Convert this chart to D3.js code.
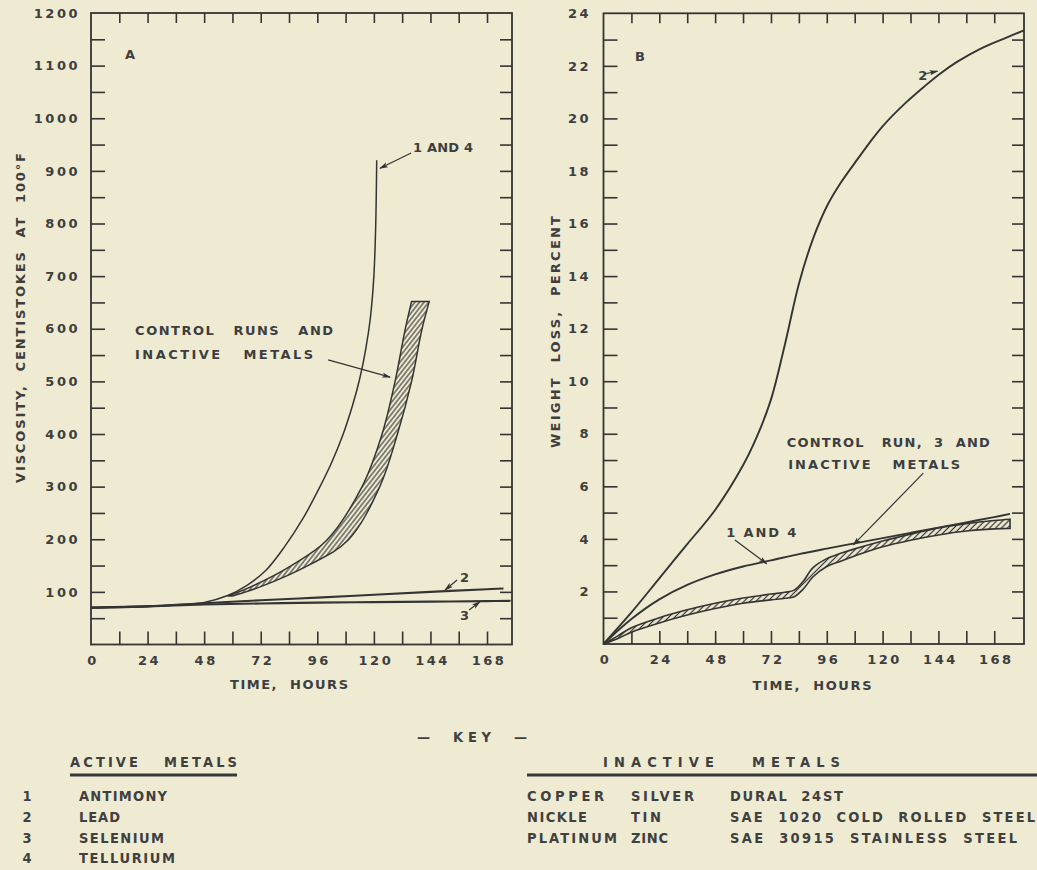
<!DOCTYPE html>
<html><head><meta charset="utf-8">
<script src="https://cdn.jsdelivr.net/npm/d3@7"></script>
<style>
html,body{margin:0;padding:0;background:#eeebd2;}
svg{display:block;}
.lbl text,.lbl{font-family:"DejaVu Sans",sans-serif;font-weight:bold;font-size:13px;fill:#3e3e3e;letter-spacing:2.5px;}
.note{font-family:"DejaVu Sans",sans-serif;font-weight:bold;font-size:13px;fill:#3e3e3e;}
.key{font-family:"DejaVu Sans Condensed","DejaVu Sans",sans-serif;font-weight:bold;font-size:14.5px;fill:#404040;}
</style></head>
<body><svg id="chart" width="1037" height="870"></svg>
<script>
// ---------- DATA ----------
// Panel A: viscosity (centistokes at 100°F) vs time (hours)
const timeA3 = [0, 24, 48, 72, 96, 120, 144, 168, 178];
const viscA3 = [70, 72.5, 76, 78, 79.5, 80.5, 81.5, 82.5, 83];
const timeA2 = [0, 24, 44, 72, 96, 120, 144, 168, 175];
const viscA2 = [70, 72.5, 77.5, 84, 89, 94.5, 100, 105, 106.5];
const timeA14 = [0, 24, 40, 48, 58, 66, 74, 82, 90, 96, 102, 107, 111, 114, 116.5, 118.5, 120, 120.8, 121.2];
const viscA14 = [70, 72.5, 76.5, 80, 93, 112, 140, 185, 240, 290, 345, 400, 455, 505, 560, 620, 700, 800, 920];
// hatched band (control runs and inactive metals)
const bandAVisc = [92, 110, 150, 198, 300, 400, 500, 597, 652];
const bandALeftTime = [58, 68, 85, 100, 115, 123.5, 129, 133.2, 136];
const bandARightTime = [60, 72, 92, 109, 122.5, 130, 136, 140.3, 143.5];

// Panel B: weight loss (percent) vs time (hours)
const timeB2 = [0, 12, 24, 36, 48, 60, 66, 72, 78, 84, 90, 96, 102, 108, 114.6, 120, 130, 138, 145, 152, 162, 172, 180.8];
const lossB2 = [0, 1.2, 2.5, 3.8, 5.1, 6.8, 7.9, 9.3, 11.4, 13.7, 15.4, 16.65, 17.55, 18.3, 19.1, 19.7, 20.6, 21.22, 21.72, 22.15, 22.65, 23.03, 23.35];
const timeB14 = [0, 12, 24, 36, 48, 60, 72, 84, 96, 108, 120, 132, 144, 156, 168, 174.8];
const lossB14 = [0, 0.95, 1.7, 2.25, 2.65, 2.95, 3.18, 3.42, 3.63, 3.83, 4.03, 4.23, 4.43, 4.63, 4.83, 4.95];
const bandBTime = [0, 6, 12, 24, 36, 48, 60, 72, 78, 82, 86, 90, 96, 102, 108, 120, 132, 144, 156, 168, 174.8];
const bandBLower = [0, 0.2, 0.45, 0.8, 1.1, 1.35, 1.55, 1.68, 1.74, 1.8, 2.1, 2.55, 2.95, 3.15, 3.35, 3.7, 3.95, 4.15, 4.3, 4.38, 4.4];
const bandBUpper = [0, 0.3, 0.62, 1.0, 1.3, 1.55, 1.75, 1.9, 1.97, 2.05, 2.4, 2.9, 3.25, 3.45, 3.62, 3.92, 4.18, 4.42, 4.58, 4.7, 4.75];

// Tick values / labels
const timeLabels = [0, 24, 48, 72, 96, 120, 144, 168];
const timeMinor = d3.range(12, 169, 12);
const viscLabels = d3.range(100, 1201, 100);
const viscMinor = d3.range(50, 1151, 50);
const lossLabels = d3.range(2, 25, 2);
const lossMinor = d3.range(1, 24, 1);

// Annotations (data coordinates)
const notesA = [
  {t: "A", h: 14.4, v: 1113, w: 0},
  {t: "1 AND 4", h: 136.6, v: 936, w: 60},
  {t: "CONTROL   RUNS   AND", h: 18.7, v: 588, w: 198},
  {t: "INACTIVE   METALS", h: 18.7, v: 542, w: 178},
  {t: "2", h: 156.5, v: 119, w: 0},
  {t: "3", h: 156.5, v: 47, w: 0}
];
const arrowsA = [
  [135.8, 934, 122.6, 905],
  [100.6, 541, 126.9, 508],
  [155.3, 122.6, 150.2, 103.6],
  [160.4, 65.6, 165, 81.3]
];
const notesB = [
  {t: "B", h: 13.5, v: 22.2, w: 0},
  {t: "2", h: 135.3, v: 21.45, w: 0},
  {t: "1 AND 4", h: 52.8, v: 4.08, w: 70},
  {t: "CONTROL   RUN,  3  AND", h: 78.8, v: 7.5, w: 203},
  {t: "INACTIVE   METALS", h: 79.4, v: 6.65, w: 172}
];
const arrowsB = [
  [138.5, 21.7, 143.6, 21.8],
  [56.5, 3.96, 70.2, 3.05],
  [137.5, 6.5, 107.4, 3.77]
];

// Key
const activeNums = ["1", "2", "3", "4"];
const activeNames = ["ANTIMONY", "LEAD", "SELENIUM", "TELLURIUM"];
const activeWidths = [88, 41, 85, 96];
const inactiveCol1 = ["COPPER", "NICKLE", "PLATINUM"];
const inactiveCol2 = ["SILVER", "TIN", "ZINC"];
const inactiveCol3 = ["DURAL  24ST", "SAE  1020  COLD  ROLLED  STEEL", "SAE  30915  STAINLESS  STEEL"];
const inactiveW1 = [77, 60, 90];
const inactiveW2 = [63, 30, 37];
const inactiveW3 = [113, 305, 287];

// ---------- DRAW ----------
const W = 1037, H = 870, BG = "#eeebd2", INK = "#343434";
const svg = d3.select("#chart");
svg.append("rect").attr("width", W).attr("height", H).attr("fill", BG);
const defs = svg.append("defs");
function hatch(id, sp, ang, sw) {
  const p = defs.append("pattern").attr("id", id).attr("patternUnits", "userSpaceOnUse")
    .attr("width", sp).attr("height", sp).attr("patternTransform", `rotate(${ang})`);
  p.append("rect").attr("width", sp).attr("height", sp).attr("fill", BG);
  p.append("line").attr("x1", sp / 2).attr("x2", sp / 2).attr("y1", 0).attr("y2", sp)
    .attr("stroke", "#333").attr("stroke-width", sw);
}
hatch("hA", 3.6, 38, 1.1);
hatch("hB", 4.2, 45, 1.2);
defs.append("marker").attr("id", "arr").attr("viewBox", "0 0 10 6").attr("refX", 9).attr("refY", 3)
  .attr("markerWidth", 9).attr("markerHeight", 5.5).attr("markerUnits", "userSpaceOnUse").attr("orient", "auto")
  .append("path").attr("d", "M0,0 L10,3 L0,6 L2.5,3 Z").attr("fill", INK);

const xA = d3.scaleLinear().domain([0, 178.6]).range([91, 512]);
const yA = d3.scaleLinear().domain([0, 1200]).range([644.5, 13]);
const xB = d3.scaleLinear().domain([0, 180.8]).range([603.5, 1024]);
const yB = d3.scaleLinear().domain([0, 24]).range([644, 13.3]);

function panel(x, y, minorY, labY, labPad) {
  const g = svg.append("g");
  const [x0, x1] = x.range(), [y0, y1] = y.range();
  const tk = sel => { sel.select(".domain").remove(); sel.selectAll("line").attr("stroke", INK).attr("stroke-width", 1.6); };
  g.append("g").attr("transform", `translate(${x0},0)`).call(d3.axisLeft(y).tickValues(minorY).tickSize(-14).tickFormat("")).call(tk);
  g.append("g").attr("transform", `translate(${x1},0)`).call(d3.axisRight(y).tickValues(minorY).tickSize(-12).tickFormat("")).call(tk);
  g.append("g").attr("transform", `translate(0,${y0})`).call(d3.axisBottom(x).tickValues(timeMinor).tickSize(-13).tickFormat("")).call(tk);
  g.append("g").attr("transform", `translate(0,${y1})`).call(d3.axisTop(x).tickValues(timeMinor).tickSize(-10).tickFormat("")).call(tk);
  g.append("g").attr("class", "lbl").attr("transform", `translate(${x0},0)`)
    .call(d3.axisLeft(y).tickValues(labY).tickSize(0).tickPadding(labPad).tickFormat(d3.format("d")))
    .call(s => s.select(".domain").remove()).selectAll("text").attr("font-size", null).attr("font-family", null);
  g.append("g").attr("class", "lbl").attr("transform", `translate(1.5,${y0})`)
    .call(d3.axisBottom(x).tickValues(timeLabels).tickSize(0).tickPadding(11).tickFormat(d3.format("d")))
    .call(s => s.select(".domain").remove()).selectAll("text").attr("font-size", null).attr("font-family", null);
  g.append("rect").attr("x", x0).attr("y", y1).attr("width", x1 - x0).attr("height", y0 - y1)
    .attr("fill", "none").attr("stroke", INK).attr("stroke-width", 1.8);
  return g;
}
panel(xA, yA, viscMinor, viscLabels, 11);
panel(xB, yB, lossMinor, lossLabels, 12.5);

function bandPath(line, edge1, edge2) {
  return line(edge1) + line(edge2.slice().reverse()).replace(/^M/, "L") + "Z";
}
const lineA = d3.line().x(d => xA(d[0])).y(d => yA(d[1])).curve(d3.curveCatmullRom.alpha(0.5));
const lineB = d3.line().x(d => xB(d[0])).y(d => yB(d[1])).curve(d3.curveCatmullRom.alpha(0.5));

// Panel A marks
const bandL = bandALeftTime.map((t, i) => [t, bandAVisc[i]]);
const bandR = bandARightTime.map((t, i) => [t, bandAVisc[i]]);
svg.append("path").attr("d", bandPath(lineA, bandL, bandR)).attr("fill", "url(#hA)").attr("stroke", INK).attr("stroke-width", 1.5);
svg.append("path").attr("d", lineA(timeA3.map((t, i) => [t, viscA3[i]]))).attr("fill", "none").attr("stroke", INK).attr("stroke-width", 2.1);
svg.append("path").attr("d", lineA(timeA2.map((t, i) => [t, viscA2[i]]))).attr("fill", "none").attr("stroke", INK).attr("stroke-width", 2.1);
svg.append("path").attr("d", lineA(timeA14.map((t, i) => [t, viscA14[i]]))).attr("fill", "none").attr("stroke", INK).attr("stroke-width", 1.5);

// Panel B marks
const bU = bandBTime.map((t, i) => [t, bandBUpper[i]]);
const bL = bandBTime.map((t, i) => [t, bandBLower[i]]);
svg.append("path").attr("d", bandPath(lineB, bU, bL)).attr("fill", "url(#hB)").attr("stroke", INK).attr("stroke-width", 1.6);
svg.append("path").attr("d", lineB(timeB14.map((t, i) => [t, lossB14[i]]))).attr("fill", "none").attr("stroke", INK).attr("stroke-width", 1.9);
svg.append("path").attr("d", lineB(timeB2.map((t, i) => [t, lossB2[i]]))).attr("fill", "none").attr("stroke", INK).attr("stroke-width", 1.9);

// Annotations
function notes(list, arrows, x, y) {
  list.forEach(n => {
    const t = svg.append("text").attr("class", "note").attr("x", x(n.h)).attr("y", y(n.v)).text(n.t).style("white-space", "pre");
    if (n.w) t.attr("textLength", n.w).attr("lengthAdjust", "spacing");
  });
  arrows.forEach(a => svg.append("line").attr("x1", x(a[0])).attr("y1", y(a[1])).attr("x2", x(a[2])).attr("y2", y(a[3]))
    .attr("stroke", INK).attr("stroke-width", 1.2).attr("marker-end", "url(#arr)"));
}
notes(notesA, arrowsA, xA, yA);
notes(notesB, arrowsB, xB, yB);

// Axis titles
function txt(s, x, y, w, rot, cls) {
  const t = svg.append("text").attr("class", cls || "note").attr("text-anchor", "middle")
    .attr("transform", `translate(${x},${y})` + (rot ? " rotate(-90)" : "")).attr("dy", rot ? "0.36em" : 0)
    .style("white-space", "pre").text(s);
  if (w) t.attr("textLength", w).attr("lengthAdjust", "spacing");
  return t;
}
txt("TIME,  HOURS", 289, 689, 118);
txt("TIME,  HOURS", 812, 690, 119);
txt("VISCOSITY,  CENTISTOKES  AT  100°F", 20, 318, 330, true);
txt("WEIGHT  LOSS,  PERCENT", 555, 332, 232, true);

// Key
txt("—  KEY  —", 472, 742, 110, false, "key").attr("font-size", 12.5);
function kt(s, x, y, w) {
  const t = svg.append("text").attr("class", "key").attr("x", x).attr("y", y).style("white-space", "pre").text(s);
  if (w) t.attr("textLength", w).attr("lengthAdjust", "spacing");
}
kt("ACTIVE   METALS", 70, 767, 167);
kt("INACTIVE   METALS", 603, 767, 237);
svg.append("line").attr("x1", 70).attr("x2", 237).attr("y1", 775).attr("y2", 775).attr("stroke", "#383838").attr("stroke-width", 3.2);
svg.append("line").attr("x1", 527).attr("x2", 1037).attr("y1", 775).attr("y2", 775).attr("stroke", "#383838").attr("stroke-width", 3.2);
const rowY = [801, 822, 843, 863];
activeNums.forEach((n, i) => { svg.append("text").attr("class", "key").attr("x", 27).attr("y", rowY[i]).attr("text-anchor", "middle").text(n); });
activeNames.forEach((n, i) => kt(n, 79, rowY[i], activeWidths[i]));
inactiveCol1.forEach((n, i) => kt(n, 527, rowY[i], inactiveW1[i]));
inactiveCol2.forEach((n, i) => kt(n, 631, rowY[i], inactiveW2[i]));
inactiveCol3.forEach((n, i) => kt(n, 730, rowY[i], inactiveW3[i]));
</script>
</body></html>
